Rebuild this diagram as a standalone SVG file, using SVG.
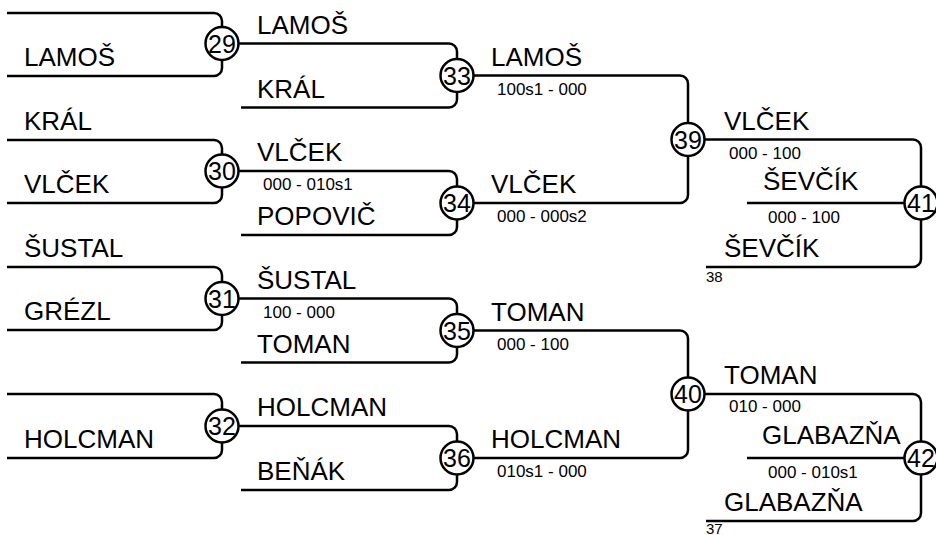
<svg xmlns="http://www.w3.org/2000/svg" width="936" height="535" viewBox="0 0 936 535">
<style>
.ln{fill:none;stroke:#000;stroke-width:2.5;stroke-linecap:butt}
.c{fill:#fff;stroke:#000;stroke-width:2.5}
.n{font-family:"Liberation Sans",Arial,sans-serif;font-size:25px;fill:#000;text-anchor:middle}
.nm{font-family:"Liberation Sans",Arial,sans-serif;font-size:26px;fill:#000}
.sc{font-family:"Liberation Sans",Arial,sans-serif;font-size:17px;fill:#000}
.sm{font-family:"Liberation Sans",Arial,sans-serif;font-size:15px;fill:#000}
</style>
<rect width="936" height="535" fill="#fff"/>
<g id="connectors" class="ln">
<path d="M7,13 H214 A8,8 0 0 1 222,21 V27"/>
<path d="M7,76 H214 A8,8 0 0 0 222,68 V60"/>
<path d="M7,140 H214 A8,8 0 0 1 222,148 V154.5"/>
<path d="M7,203 H214 A8,8 0 0 0 222,195 V187.5"/>
<path d="M7,267 H214 A8,8 0 0 1 222,275 V282"/>
<path d="M7,330 H214 A8,8 0 0 0 222,322 V315"/>
<path d="M7,394 H214 A8,8 0 0 1 222,402 V409.5"/>
<path d="M7,458 H214 A8,8 0 0 0 222,450 V442.5"/>
<path d="M238.5,43.5 H449 A8,8 0 0 1 457,51.5 V59"/>
<path d="M241,107.5 H449 A8,8 0 0 0 457,99.5 V92"/>
<path d="M238.5,171 H449 A8,8 0 0 1 457,179 V186.5"/>
<path d="M241,235 H449 A8,8 0 0 0 457,227 V219.5"/>
<path d="M238.5,298.5 H449 A8,8 0 0 1 457,306.5 V314"/>
<path d="M241,362.5 H449 A8,8 0 0 0 457,354.5 V347"/>
<path d="M238.5,426 H449 A8,8 0 0 1 457,434 V441.5"/>
<path d="M241,490 H449 A8,8 0 0 0 457,482 V474.5"/>
<path d="M473.5,75.5 H680 A8,8 0 0 1 688,83.5 V123"/>
<path d="M473.5,203 H680 A8,8 0 0 0 688,195 V156"/>
<path d="M473.5,330.5 H680 A8,8 0 0 1 688,338.5 V377.5"/>
<path d="M473.5,458 H680 A8,8 0 0 0 688,450 V410.5"/>
<path d="M704.5,139.5 H913 A8,8 0 0 1 921,147.5 V186.5"/>
<path d="M747,203 H904.5"/>
<path d="M706,267 H913 A8,8 0 0 0 921,259 V219.5"/>
<path d="M704.5,394 H913 A8,8 0 0 1 921,402 V441.5"/>
<path d="M747,458 H904.5"/>
<path d="M706,521 H913 A8,8 0 0 0 921,513 V474.5"/>
</g>
<g id="m29"><circle class="c" cx="222" cy="43.5" r="16.5"/><text class="n" x="222" y="52.5">29</text></g>
<g id="m30"><circle class="c" cx="222" cy="171" r="16.5"/><text class="n" x="222" y="180">30</text></g>
<g id="m31"><circle class="c" cx="222" cy="298.5" r="16.5"/><text class="n" x="222" y="307.5">31</text></g>
<g id="m32"><circle class="c" cx="222" cy="426" r="16.5"/><text class="n" x="222" y="435">32</text></g>
<g id="m33"><circle class="c" cx="457" cy="75.5" r="16.5"/><text class="n" x="457" y="84.5">33</text></g>
<g id="m34"><circle class="c" cx="457" cy="203" r="16.5"/><text class="n" x="457" y="212">34</text></g>
<g id="m35"><circle class="c" cx="457" cy="330.5" r="16.5"/><text class="n" x="457" y="339.5">35</text></g>
<g id="m36"><circle class="c" cx="457" cy="458" r="16.5"/><text class="n" x="457" y="467">36</text></g>
<g id="m39"><circle class="c" cx="688" cy="139.5" r="16.5"/><text class="n" x="688" y="148.5">39</text></g>
<g id="m40"><circle class="c" cx="688" cy="394" r="16.5"/><text class="n" x="688" y="403">40</text></g>
<g id="m41"><circle class="c" cx="921" cy="203" r="16.5"/><text class="n" x="921" y="212">41</text></g>
<g id="m42"><circle class="c" cx="921" cy="458" r="16.5"/><text class="n" x="921" y="467">42</text></g>
<g id="names" class="nm">
<text x="24" y="66">LAMOŠ</text>
<text x="24" y="130">KRÁL</text>
<text x="24" y="193">VLČEK</text>
<text x="24" y="257">ŠUSTAL</text>
<text x="24" y="320">GRÉZL</text>
<text x="24" y="448">HOLCMAN</text>
<text x="257" y="33.5">LAMOŠ</text>
<text x="257" y="97.5">KRÁL</text>
<text x="257" y="161">VLČEK</text>
<text x="257" y="225">POPOVIČ</text>
<text x="257" y="288.5">ŠUSTAL</text>
<text x="257" y="352.5">TOMAN</text>
<text x="257" y="416">HOLCMAN</text>
<text x="257" y="480">BEŇÁK</text>
<text x="491" y="65.5">LAMOŠ</text>
<text x="491" y="193">VLČEK</text>
<text x="491" y="320.5">TOMAN</text>
<text x="491" y="448">HOLCMAN</text>
<text x="724" y="129.5">VLČEK</text>
<text x="763" y="190">ŠEVČÍK</text>
<text x="724" y="257">ŠEVČÍK</text>
<text x="724" y="384">TOMAN</text>
<text x="762" y="444">GLABAZŇA</text>
<text x="724" y="511">GLABAZŇA</text>
</g>
<g id="scores" class="sc">
<text x="263" y="190">000 - 010s1</text>
<text x="263" y="317.5">100 - 000</text>
<text x="497" y="95">100s1 - 000</text>
<text x="497" y="222">000 - 000s2</text>
<text x="497" y="349.5">000 - 100</text>
<text x="497" y="477">010s1 - 000</text>
<text x="729" y="158.5">000 - 100</text>
<text x="768" y="223">000 - 100</text>
<text x="729" y="412">010 - 000</text>
<text x="768" y="477.5">000 - 010s1</text>
</g>
<g id="refs" class="sm">
<text x="706" y="282">38</text>
<text x="706" y="534">37</text>
</g>
</svg>
